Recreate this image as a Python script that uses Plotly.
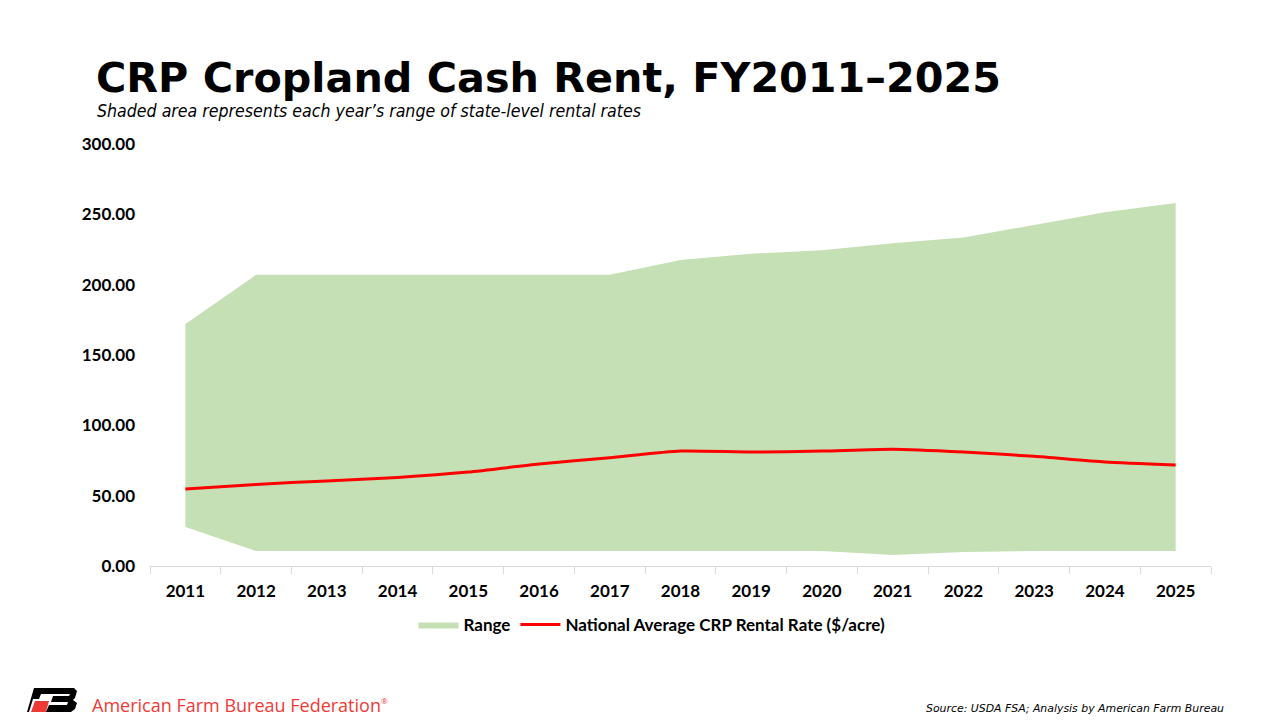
import plotly.graph_objects as go

years = [str(y) for y in range(2011, 2026)]
range_low = [27.7, 10.7, 10.7, 10.7, 10.7, 10.7, 10.7, 10.7, 10.7, 10.7, 7.8, 10.0, 10.7, 10.7, 10.7]
range_high = [172, 207, 207, 207, 207, 207, 207, 217.5, 222, 224.5, 229.5, 233.5, 242.5, 251.5, 258]
national_avg = [54.7, 58, 60.5, 63, 66.8, 72.5, 77, 81.7, 81, 81.7, 83, 81, 78, 74, 71.8]

# page has an 8px body margin, so the figure is drawn 8px smaller and shifted
OFF = 8
W, H = 1280 - OFF, 720 - OFF
# plot area in screen pixels (used to place extra text/logo in paper coords)
L, R, T, B = 150, 1211, 144, 566
def px(x):
    return (x - L) / (R - L)
def py(y):
    return (B - y) / (B - T)

fig = go.Figure()

fig.add_trace(go.Scatter(
    x=years, y=range_low, mode="lines", line=dict(width=0),
    showlegend=False, hoverinfo="skip"
))
fig.add_trace(go.Scatter(
    x=years, y=range_high, mode="lines", line=dict(width=0),
    fill="tonexty", fillcolor="#c5e0b4", name="Range"
))
fig.add_trace(go.Scatter(
    x=years, y=national_avg, mode="lines",
    line=dict(color="#ff0000", width=3, shape="spline", smoothing=0.6),
    name="National Average CRP Rental Rate ($/acre)"
))

fig.update_xaxes(
    type="category", showgrid=False, showline=True, linecolor="#d9d9d9", linewidth=1,
    ticks="outside", tickson="boundaries", ticklen=7, tickcolor="#d9d9d9",
    ticklabelstandoff=10,
    tickfont=dict(family="Lato", size=17, color="#000000", weight="bold"),
    range=[-0.5, 14.5], fixedrange=True
)
fig.update_yaxes(
    range=[0, 300], dtick=50, tickformat=".2f", showgrid=False, zeroline=False,
    showline=False, ticks="", ticklabelstandoff=14,
    tickfont=dict(family="Lato", size=17, color="#000000", weight="bold"),
)

def note(text, x, y, xanchor, font, yanchor="middle"):
    return dict(text=text, x=px(x), y=py(y), xref="paper", yref="paper",
                xanchor=xanchor, yanchor=yanchor, showarrow=False, font=font,
                borderpad=0)

annotations = [
    note("<b>CRP Cropland Cash Rent, FY2011\u20132025</b>", 95, 103, "left",
         dict(family="DejaVu Sans", size=41.3, color="#000000"), yanchor="bottom"),
    note("<i>Shaded area represents each year\u2019s range of state-level rental rates</i>", 96, 100, "left",
         dict(family="DejaVu Sans Condensed, DejaVu Sans", size=17.6, color="#000000"), yanchor="top"),
    note("American Farm Bureau Federation<sup><span style='font-size:8px'>\u00ae</span></sup>", 91, 705, "left",
         dict(family="Open Sans", size=18, color="#ee3a36")),
    note("<i>Source: USDA FSA; Analysis by American Farm Bureau</i>", 1225, 708, "right",
         dict(family="DejaVu Sans", size=10.9, color="#000000")),
]

# simplified FB logo
def poly(pts, color):
    d = "M " + " L ".join(f"{px(a):.5f},{py(b):.5f}" for a, b in pts) + " Z"
    return dict(type="path", path=d, xref="paper", yref="paper",
                fillcolor=color, line=dict(width=0), layer="above")

shapes = [
    poly([(34, 688), (57, 688), (55, 694), (41, 694), (39, 699), (33, 699), (29, 712), (27, 712)], "#000000"),
    poly([(35, 701), (49, 701), (46, 712), (31, 712)], "#ee3a36"),
    poly([(52, 688), (74, 688), (77, 691), (75, 698), (73, 700), (77, 703), (75, 709), (71, 712), (46, 712), (49, 705),
          (67, 705), (68, 702), (51, 702), (53, 696), (69, 696), (70, 694), (50, 694)], "#000000"),
]

fig.update_layout(
    width=W, height=H,
    margin=dict(l=L - OFF, r=1280 - R, t=T - OFF, b=720 - B, autoexpand=False),
    paper_bgcolor="#ffffff", plot_bgcolor="#ffffff",
    showlegend=True,
    legend=dict(orientation="h", x=px(652), y=py(625), xanchor="center", yanchor="middle",
                font=dict(family="Lato", size=17, color="#000000", weight="bold"),
                itemwidth=40, traceorder="normal"),
    annotations=annotations,
    shapes=shapes,
)

fig.write_html("out.html")
